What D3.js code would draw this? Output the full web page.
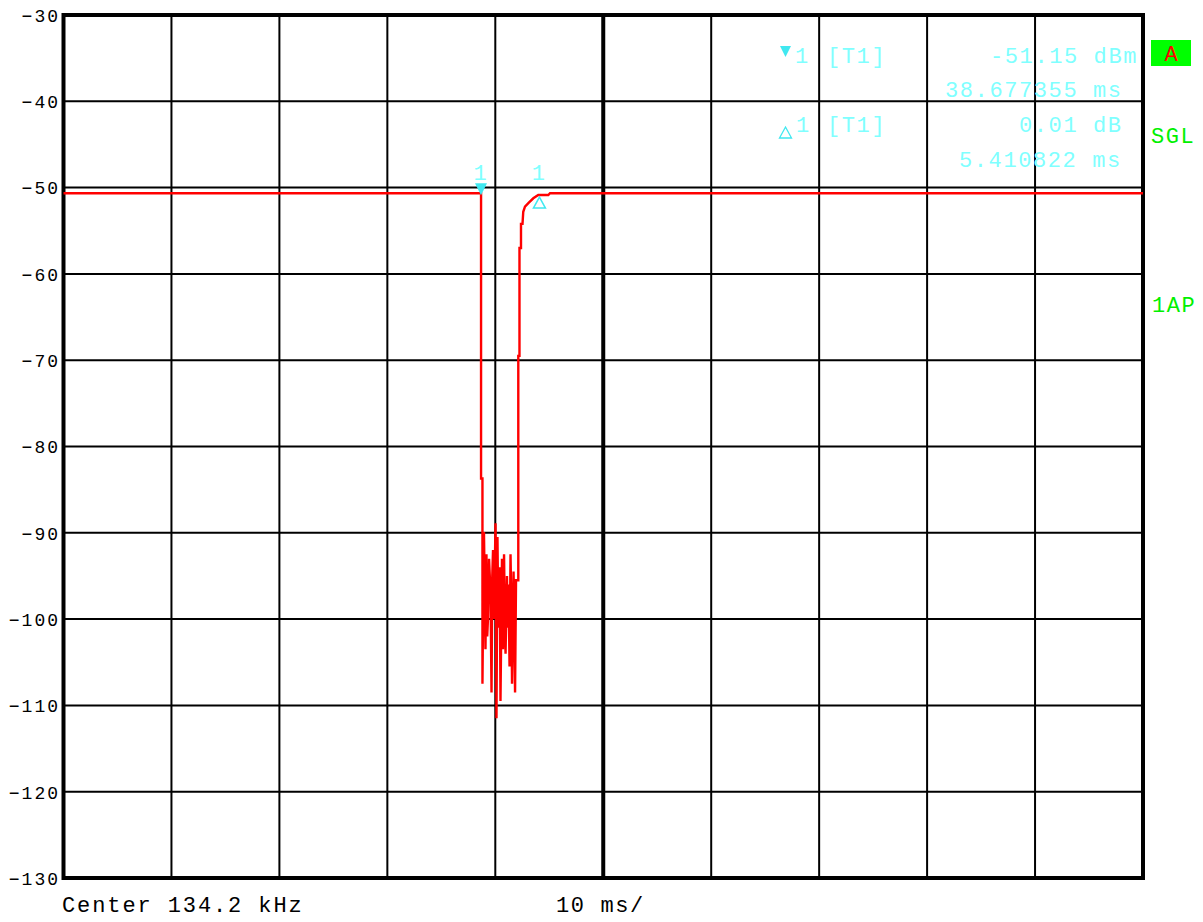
<!DOCTYPE html>
<html>
<head>
<meta charset="utf-8">
<script src="https://cdn.jsdelivr.net/npm/d3@7/dist/d3.min.js"></script>
<style>
  html, body { margin: 0; padding: 0; background: #fff; }
  svg { display: block; }
  text { font-family: "Liberation Mono", "DejaVu Sans Mono", monospace; }
</style>
</head>
<body>
<div id="chart"></div>
<script>
const width = 1203;
const height = 922;

// level ticks (dBm) and time divisions (ms)
const levelTicks = [-30, -40, -50, -60, -70, -80, -90, -100, -110, -120, -130];
const timeDivs = [0, 10, 20, 30, 40, 50, 60, 70, 80, 90, 100];

// trace 1 (time ms, level dBm)
const trace = [
  [0, -50.65], [38.68, -50.65], [38.68, -83.7], [38.81, -83.7], [38.81, -107.5],
  [38.90, -95], [38.95, -89.9], [39.09, -103.5], [39.18, -92.5], [39.25, -102],
  [39.32, -100], [39.42, -93], [39.56, -97], [39.65, -108.5], [39.72, -95],
  [39.79, -92], [39.88, -100], [40.02, -88.9], [40.11, -111.5], [40.20, -90.5],
  [40.27, -99], [40.34, -101], [40.41, -94], [40.48, -109.5], [40.62, -93],
  [40.71, -103.5], [40.81, -92.5], [40.88, -100], [40.95, -104], [41.08, -95],
  [41.15, -101], [41.22, -96], [41.32, -105.5], [41.41, -92.5], [41.48, -98],
  [41.55, -107.5], [41.69, -94.5], [41.76, -100], [41.83, -108.5], [41.92, -95.5],
  [42.06, -95.5], [42.13, -95.5], [42.13, -69.5], [42.24, -69.5],
  [42.24, -57], [42.38, -57], [42.38, -54.2], [42.52, -54.2], [42.59, -52.8],
  [42.75, -52.2], [43.06, -51.8], [43.52, -51.24], [43.98, -50.86], [44.91, -50.86],
  [45.07, -50.65], [100, -50.65]
];

// markers
const marker1 = { t: 38.677355, level: -50.65 };
const delta1 = { t: 38.677355 + 5.410822, level: -50.86 };
const markerText = [
  { text: "[T1]", x: 827, y: 63 },
  { text: "-51.15 dBm", x: 990, y: 63 },
  { text: "38.677355 ms", x: 945, y: 97 },
  { text: "[T1]", x: 827, y: 132 },
  { text: "0.01 dB", x: 1019, y: 132 },
  { text: "5.410822 ms", x: 959, y: 167 }
];

const cyanText = "#80ffff";
const cyanMark = "#40e8f0";
const green = "#00f000";

const svg = d3.select("#chart")
  .append("svg")
  .attr("width", width)
  .attr("height", height);

const x = d3.scaleLinear().domain([0, 100]).range([63.5, 1143]);
const y = d3.scaleLinear().domain([-130, -30]).range([878, 15]);

// grid
svg.append("g")
  .selectAll("line")
  .data(levelTicks.slice(1, -1))
  .enter()
  .append("line")
  .attr("x1", x(0)).attr("x2", x(100))
  .attr("y1", d => y(d)).attr("y2", d => y(d))
  .attr("stroke", "#000")
  .attr("stroke-width", 2);

svg.append("g")
  .selectAll("line")
  .data(timeDivs.slice(1, -1))
  .enter()
  .append("line")
  .attr("x1", d => x(d)).attr("x2", d => x(d))
  .attr("y1", y(-30)).attr("y2", y(-130))
  .attr("stroke", "#000")
  .attr("stroke-width", d => d === 50 ? 4 : 2);

// frame
svg.append("rect")
  .attr("x", x(0)).attr("y", y(-30))
  .attr("width", x(100) - x(0)).attr("height", y(-130) - y(-30))
  .attr("fill", "none")
  .attr("stroke", "#000")
  .attr("stroke-width", 4);

// level labels
const yAxis = d3.axisLeft(y)
  .tickValues(levelTicks)
  .tickSize(0)
  .tickPadding(0)
  .tickFormat(d => String(d).replace("-", "\u2212"));

svg.append("g")
  .attr("transform", "translate(60,0)")
  .call(yAxis)
  .call(g => g.select(".domain").remove())
  .selectAll("text")
  .attr("font-family", "Liberation Mono, DejaVu Sans Mono, monospace")
  .attr("font-size", 18)
  .attr("letter-spacing", 2)
  .attr("fill", "#000")
  .attr("dy", "0.35em");

// trace
const line = d3.line()
  .x(d => x(d[0]))
  .y(d => y(d[1]));

svg.append("path")
  .datum(trace)
  .attr("d", line)
  .attr("fill", "none")
  .attr("stroke", "#ff0000")
  .attr("stroke-width", 2.4)
  .attr("stroke-linejoin", "miter");

// marker 1 (filled, pointing down)
const mx = x(marker1.t), my = y(marker1.level);
svg.append("path")
  .attr("d", `M${mx - 6},${my - 10} L${mx + 6},${my - 10} L${mx},${my + 2} Z`)
  .attr("fill", cyanMark);
svg.append("text")
  .attr("x", mx - 1).attr("y", 180)
  .attr("text-anchor", "middle")
  .attr("font-size", 22)
  .attr("fill", cyanText)
  .text("1");

// delta marker 1 (open, pointing up)
const dx = x(delta1.t), dy = y(delta1.level);
svg.append("path")
  .attr("d", `M${dx},${dy + 2} L${dx + 6},${dy + 13} L${dx - 6},${dy + 13} Z`)
  .attr("fill", "none")
  .attr("stroke", cyanMark)
  .attr("stroke-width", 1.5);
svg.append("text")
  .attr("x", dx - 1).attr("y", 180)
  .attr("text-anchor", "middle")
  .attr("font-size", 22)
  .attr("fill", cyanText)
  .text("1");

// marker info block
svg.append("path")
  .attr("d", "M780,46 L791,46 L785.5,57 Z")
  .attr("fill", cyanMark);
svg.append("path")
  .attr("d", "M785.5,127 L791.5,138 L779.5,138 Z")
  .attr("fill", "none")
  .attr("stroke", cyanMark)
  .attr("stroke-width", 1.3);
svg.append("text").attr("x", 795).attr("y", 63)
  .attr("font-size", 22).attr("fill", cyanText).text("1");
svg.append("text").attr("x", 796).attr("y", 132)
  .attr("font-size", 22).attr("fill", cyanText).text("1");

svg.append("g")
  .selectAll("text")
  .data(markerText)
  .enter()
  .append("text")
  .attr("x", d => d.x)
  .attr("y", d => d.y)
  .attr("font-size", 22)
  .attr("letter-spacing", 1.6)
  .attr("fill", cyanText)
  .style("white-space", "pre")
  .text(d => d.text);

// right side annotations
svg.append("rect")
  .attr("x", 1151).attr("y", 40)
  .attr("width", 40).attr("height", 26)
  .attr("fill", "#00ff00");
svg.append("text")
  .attr("x", 1171).attr("y", 61)
  .attr("text-anchor", "middle")
  .attr("font-size", 22)
  .attr("fill", "#ff0000")
  .text("A");
svg.append("text")
  .attr("x", 1151).attr("y", 143)
  .attr("font-size", 22).attr("letter-spacing", 1.6)
  .attr("fill", green)
  .text("SGL");
svg.append("text")
  .attr("x", 1152).attr("y", 312)
  .attr("font-size", 22).attr("letter-spacing", 1.6)
  .attr("fill", green)
  .text("1AP");

// bottom annotations
svg.append("text")
  .attr("x", 62).attr("y", 912)
  .attr("font-size", 22).attr("letter-spacing", 1.9)
  .attr("fill", "#000")
  .style("white-space", "pre")
  .text("Center 134.2 kHz");
svg.append("text")
  .attr("x", 556).attr("y", 912)
  .attr("font-size", 22).attr("letter-spacing", 1.6)
  .attr("fill", "#000")
  .style("white-space", "pre")
  .text("10 ms/");
</script>
</body>
</html>
